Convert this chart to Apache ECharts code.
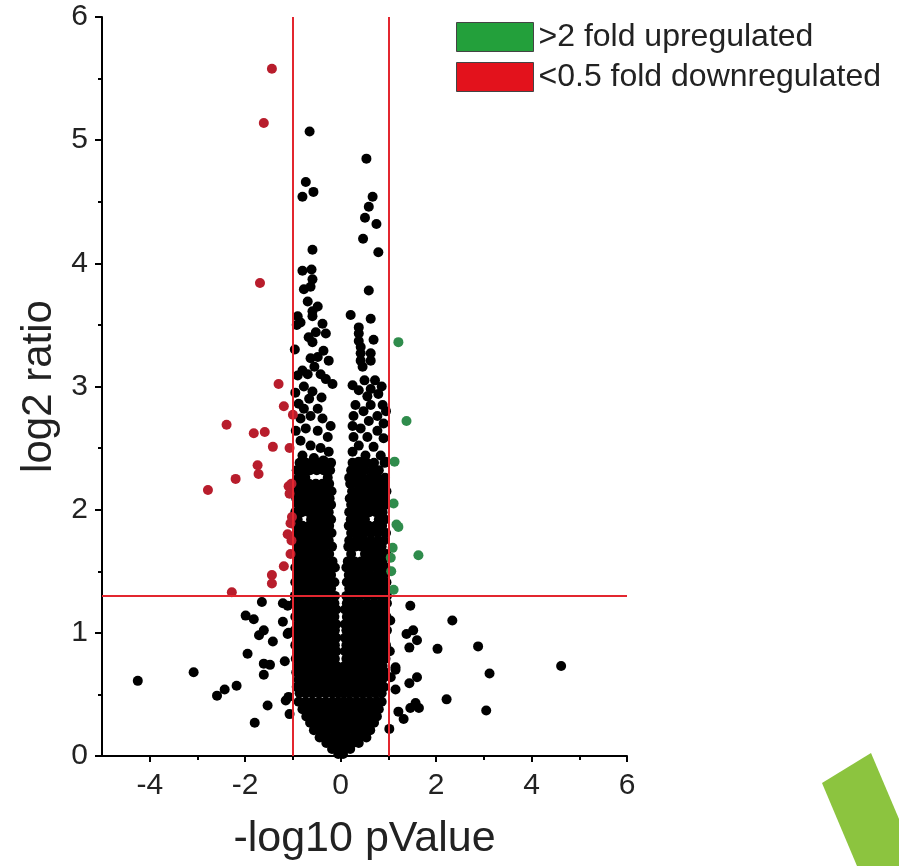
<!DOCTYPE html>
<html>
<head>
<meta charset="utf-8">
<script src="https://cdn.jsdelivr.net/npm/echarts@6/dist/echarts.min.js"></script>
<style>
  html, body { margin: 0; padding: 0; background: #fff; }
  #chart { width: 899px; height: 866px; }
</style>
</head>
<body>
<div id="chart"></div>
<script>
// tick values
const xMajorTicks = [-4, -2, 0, 2, 4, 6];
const xMinorTicks = [-3, -1, 1, 3, 5];

// thresholds
const foldLines = [-1, 1];
const pCut = 1.301;

// >2 fold upregulated (green)
const upPoints = [
  [1.21, 3.36], [1.38, 2.72], [1.13, 2.39], [1.11, 2.05], [1.17, 1.88], [1.21, 1.86],
  [1.63, 1.63], [1.09, 1.69], [1.05, 1.61], [1.06, 1.50], [1.11, 1.35]
];

// <0.5 fold downregulated (red)
const downPoints = [
  [-1.44, 5.58], [-1.61, 5.14], [-1.69, 3.84], [-1.30, 3.02], [-1.19, 2.84], [-1.00, 2.77],
  [-2.39, 2.69], [-1.82, 2.62], [-1.59, 2.63], [-1.42, 2.51], [-1.07, 2.50], [-1.74, 2.36],
  [-1.72, 2.29], [-2.20, 2.25], [-2.78, 2.16], [-1.09, 2.19], [-1.07, 2.13], [-1.05, 1.89],
  [-1.11, 1.80], [-1.03, 1.75], [-1.05, 1.64], [-1.19, 1.54], [-1.44, 1.47], [-1.44, 1.40],
  [-2.28, 1.33], [-1.03, 2.21], [-1.02, 1.94]
];

// sparse black points in the upper part of the cloud
const upperBlack = [
  [-0.65, 5.07], [0.54, 4.85], [-0.73, 4.66], [-0.57, 4.58], [-0.80, 4.54], [0.67, 4.54],
  [0.59, 4.46], [0.51, 4.37], [0.75, 4.32], [0.47, 4.20], [-0.59, 4.11], [0.79, 4.09],
  [-0.80, 3.94], [-0.61, 3.95], [-0.59, 3.87], [-0.77, 3.79], [-0.63, 3.81], [0.59, 3.78],
  [-0.69, 3.69], [-0.48, 3.65], [-0.59, 3.61], [-0.90, 3.57], [-0.92, 3.50], [0.21, 3.58],
  [0.63, 3.55], [0.69, 3.38],
  [-0.59, 3.57], [-0.84, 3.52], [-0.38, 3.51], [-0.52, 3.44], [-0.31, 3.43], [-0.67, 3.40],
  [-0.59, 3.36], [-0.36, 3.29], [-0.48, 3.24], [-0.63, 3.23], [-0.25, 3.21], [-0.80, 3.13],
  [-0.69, 3.10], [-0.42, 3.10], [-0.31, 3.06], [-0.17, 3.02], [-0.90, 3.09], [-0.77, 3.00],
  [-0.59, 2.96], [-0.88, 2.86], [-0.77, 2.82], [-0.48, 2.82], [-0.63, 2.76], [-0.38, 2.74],
  [-0.84, 2.74], [-0.21, 2.68], [-0.73, 2.66], [-0.48, 2.64], [-0.27, 2.59], [-0.84, 2.56],
  [-0.63, 2.52], [-0.42, 2.50], [-0.25, 2.47], [-0.80, 2.44], [-0.56, 2.42], [-0.36, 2.40],
  [-0.96, 3.30], [-0.95, 2.95], [-0.55, 3.16], [-0.40, 2.91], [-0.66, 2.90], [-0.94, 2.64],
  [0.38, 3.48], [0.38, 3.43], [0.38, 3.37], [0.42, 3.32], [0.42, 3.27], [0.63, 3.27],
  [0.42, 3.21], [0.63, 3.21], [0.46, 3.16], [0.25, 3.01], [0.38, 2.97], [0.63, 2.98],
  [0.79, 2.94], [0.56, 2.92], [0.31, 2.85], [0.63, 2.85], [0.88, 2.85], [0.48, 2.80],
  [0.27, 2.76], [0.77, 2.76], [0.59, 2.72], [0.90, 2.70], [0.25, 2.68], [0.42, 2.66],
  [0.77, 2.64], [0.27, 2.59], [0.56, 2.59], [0.90, 2.58], [0.38, 2.52], [0.69, 2.51],
  [0.25, 2.47], [0.52, 2.44], [0.84, 2.44], [0.38, 2.39], [0.94, 2.39],
  [0.72, 3.05], [0.50, 3.05], [0.86, 3.00], [0.95, 2.80]
];

// dense core of the cloud, one row per log2 ratio level: [y, [x values]]
const coreRows = [
  [2.38, [-0.86, -0.72, -0.58, -0.44, -0.30, -0.20, 0.25, 0.40, 0.55, 0.70, 0.92]],
  [2.32, [-0.92, -0.79, -0.64, -0.50, -0.36, -0.22, 0.22, 0.36, 0.51, 0.66, 0.80]],
  [2.26, [-0.88, -0.74, -0.27, 0.18, 0.31, 0.46, 0.62, 0.77, 0.93]],
  [2.21, [-0.94, -0.80, -0.66, -0.52, -0.38, -0.24, 0.20, 0.35, 0.50, 0.64, 0.79, 0.92]],
  [2.15, [-0.90, -0.75, -0.61, -0.47, -0.33, -0.19, 0.24, 0.39, 0.54, 0.69, 0.84, 0.96]],
  [2.09, [-0.93, -0.79, -0.65, -0.51, -0.37, -0.23, 0.19, 0.33, 0.48, 0.62, 0.77, 0.91]],
  [2.04, [-0.88, -0.74, -0.60, -0.46, -0.32, -0.20, 0.22, 0.37, 0.52, 0.67, 0.82, 0.95]],
  [1.98, [-0.95, -0.81, -0.67, -0.53, -0.39, -0.25, 0.18, 0.32, 0.46, 0.60, 0.74, 0.88]],
  [1.92, [-0.90, -0.62, -0.48, -0.34, -0.20, 0.21, 0.36, 0.51, 0.80, 0.93]],
  [1.87, [-0.94, -0.80, -0.66, -0.52, -0.38, -0.24, 0.17, 0.31, 0.45, 0.59, 0.73, 0.87]],
  [1.81, [-0.89, -0.75, -0.61, -0.47, -0.33, -0.19, 0.22, 0.36, 0.50, 0.64, 0.78, 0.95]],
  [1.75, [-0.95, -0.81, -0.67, -0.53, -0.39, -0.25, 0.18, 0.33, 0.48, 0.63, 0.78, 0.91]],
  [1.70, [-0.90, -0.76, -0.62, -0.48, -0.34, -0.18, 0.16, 0.30, 0.44, 0.58, 0.72, 0.86]],
  [1.64, [-0.94, -0.80, -0.66, -0.52, -0.38, -0.24, 0.22, 0.51, 0.66, 0.81, 0.96]],
  [1.58, [-0.89, -0.75, -0.61, -0.47, -0.33, -0.17, 0.15, 0.29, 0.43, 0.58, 0.73, 0.88]],
  [1.53, [-0.95, -0.81, -0.67, -0.53, -0.39, -0.25, -0.12, 0.12, 0.22, 0.36, 0.50, 0.65, 0.80, 0.94]],
  [1.47, [-0.90, -0.76, -0.62, -0.48, -0.34, -0.20, 0.17, 0.31, 0.45, 0.60, 0.75, 0.90]],
  [1.41, [-0.95, -0.82, -0.68, -0.54, -0.40, -0.26, -0.13, 0.13, 0.25, 0.39, 0.53, 0.68, 0.83, 0.96]],
  [1.36, [-0.90, -0.76, -0.62, -0.48, -0.34, -0.20, 0.18, 0.32, 0.46, 0.61, 0.76, 0.91]],
  [1.30, [-0.96, -0.82, -0.68, -0.54, -0.40, -0.26, -0.12, 0.12, 0.25, 0.40, 0.55, 0.70, 0.85, 0.97]],
  [1.24, [-0.97, -0.83, -0.69, -0.55, -0.41, -0.27, -0.13, 0.13, 0.27, 0.41, 0.55, 0.69, 0.83, 0.97]],
  [1.19, [-0.90, -0.76, -0.62, -0.48, -0.34, -0.20, -0.09, 0.09, 0.20, 0.34, 0.48, 0.62, 0.76, 0.90]],
  [1.13, [-0.95, -0.81, -0.67, -0.53, -0.39, -0.25, -0.13, 0.13, 0.26, 0.40, 0.54, 0.68, 0.82, 0.96]],
  [1.07, [-0.89, -0.75, -0.61, -0.47, -0.33, -0.19, -0.09, 0.09, 0.21, 0.35, 0.49, 0.63, 0.77, 0.91]],
  [1.02, [-0.96, -0.82, -0.68, -0.54, -0.40, -0.26, -0.12, 0.12, 0.26, 0.40, 0.54, 0.68, 0.82, 0.97]],
  [0.96, [-0.91, -0.77, -0.63, -0.49, -0.35, -0.21, -0.09, 0.09, 0.21, 0.35, 0.49, 0.63, 0.77, 0.92]],
  [0.90, [-0.95, -0.81, -0.67, -0.53, -0.39, -0.25, -0.12, 0.12, 0.25, 0.39, 0.53, 0.67, 0.81, 0.95]],
  [0.85, [-0.90, -0.76, -0.62, -0.48, -0.34, -0.20, -0.09, 0.09, 0.20, 0.34, 0.48, 0.62, 0.76, 0.90]],
  [0.79, [-0.94, -0.80, -0.66, -0.52, -0.38, -0.24, -0.12, 0.12, 0.24, 0.38, 0.52, 0.66, 0.80, 0.94]],
  [0.73, [-0.89, -0.75, -0.61, -0.47, -0.33, -0.19, -0.08, 0.08, 0.19, 0.33, 0.47, 0.61, 0.75, 0.88]],
  [0.68, [-0.93, -0.79, -0.65, -0.51, -0.37, -0.23, -0.11, 0.00, 0.11, 0.23, 0.37, 0.51, 0.65, 0.79, 0.93]],
  [0.62, [-0.88, -0.74, -0.60, -0.46, -0.32, -0.18, -0.06, 0.06, 0.18, 0.32, 0.46, 0.60, 0.74, 0.87]],
  [0.56, [-0.92, -0.78, -0.64, -0.50, -0.36, -0.22, -0.10, 0.00, 0.10, 0.22, 0.36, 0.50, 0.64, 0.78, 0.91]],
  [0.51, [-0.86, -0.72, -0.58, -0.44, -0.30, -0.16, -0.05, 0.05, 0.16, 0.30, 0.44, 0.58, 0.72, 0.86]],
  [0.44, [-0.88, -0.74, -0.60, -0.46, -0.32, -0.18, -0.05, 0.07, 0.20, 0.34, 0.48, 0.62, 0.76, 0.86]],
  [0.38, [-0.80, -0.66, -0.52, -0.38, -0.24, -0.10, 0.03, 0.16, 0.30, 0.44, 0.58, 0.72, 0.80]],
  [0.32, [-0.72, -0.58, -0.44, -0.30, -0.16, -0.02, 0.12, 0.26, 0.40, 0.54, 0.68, 0.76]],
  [0.27, [-0.64, -0.50, -0.36, -0.22, -0.08, 0.06, 0.20, 0.34, 0.48, 0.62, 0.70]],
  [0.21, [-0.56, -0.42, -0.28, -0.14, 0.00, 0.14, 0.28, 0.42, 0.56, 0.62]],
  [0.15, [-0.44, -0.30, -0.16, -0.02, 0.12, 0.26, 0.40, 0.54]],
  [0.105, [-0.30, -0.16, -0.02, 0.12, 0.26, 0.38]],
  [0.057, [-0.18, -0.05, 0.08, 0.20]],
  [0.016, [-0.05, 0.05]]
];

// scattered black points outside the fold lines
const outerBlack = [
  [1.46, 1.22], [2.34, 1.10], [1.38, 0.99], [1.52, 1.02], [1.60, 0.94], [1.44, 0.88],
  [2.03, 0.87], [2.88, 0.89], [1.15, 0.72], [1.60, 0.64], [1.44, 0.59], [1.15, 0.54],
  [2.22, 0.46], [1.57, 0.43], [1.64, 0.39], [1.46, 0.39], [1.21, 0.36], [1.32, 0.30],
  [3.12, 0.67], [4.62, 0.73], [3.05, 0.37], [1.15, 0.70], [1.02, 0.22], [1.05, 0.64],
  [1.03, 0.85], [1.04, 1.10],
  [-4.25, 0.61], [-3.08, 0.68], [-2.59, 0.49], [-2.43, 0.54], [-2.18, 0.57], [-1.99, 1.14],
  [-1.82, 1.11], [-1.65, 1.25], [-1.71, 0.98], [-1.61, 1.02], [-1.42, 0.93], [-1.95, 0.83],
  [-1.61, 0.75], [-1.48, 0.74], [-1.61, 0.66], [-1.53, 0.41], [-1.80, 0.27], [-1.21, 1.24],
  [-1.11, 1.22], [-1.21, 1.09], [-1.11, 0.99], [-1.17, 0.77], [-1.15, 0.45], [-1.07, 0.34],
  [-1.09, 0.48], [-1.09, 1.00]
];

const font = "'Liberation Sans', Arial, sans-serif";
const coreBlack = coreRows.flatMap(([y, xs]) => xs.map((x) => [x, y]));
const blackPoints = upperBlack.concat(coreBlack, outerBlack);

const chart = echarts.init(document.getElementById("chart"));
chart.setOption({
  animation: false,
  backgroundColor: "#fff",
  grid: { left: 102, right: 272, top: 17, bottom: 107 },
  legend: {
    orient: "vertical",
    left: 451,
    top: 16,
    itemWidth: 77,
    itemHeight: 29,
    itemGap: 8,
    icon: "rect",
    selectedMode: false,
    itemStyle: { borderColor: "#444", borderWidth: 1 },
    textStyle: { fontSize: 32, color: "#222", fontFamily: font },
    data: [
      { name: ">2 fold upregulated", itemStyle: { color: "#23a03b" } },
      { name: "<0.5 fold downregulated", itemStyle: { color: "#e3121c" } }
    ]
  },
  xAxis: [
    {
      type: "value",
      min: -5,
      max: 6,
      position: "bottom",
      splitLine: { show: false },
      axisLine: { onZero: false, lineStyle: { color: "#000", width: 2 } },
      axisTick: { customValues: xMajorTicks, length: 6, lineStyle: { color: "#000", width: 2 } },
      axisLabel: { customValues: xMajorTicks, fontSize: 30, color: "#222", fontFamily: font, margin: 15 },
      name: "-log10 pValue",
      nameLocation: "middle",
      nameGap: 62,
      nameTextStyle: { fontSize: 43, color: "#222", fontFamily: font }
    },
    {
      type: "value",
      min: -5,
      max: 6,
      position: "bottom",
      splitLine: { show: false },
      axisLine: { show: false, onZero: false },
      axisTick: { customValues: xMinorTicks, length: 4, lineStyle: { color: "#000", width: 2 } },
      axisLabel: { show: false }
    }
  ],
  yAxis: {
    type: "value",
    min: 0,
    max: 6,
    interval: 1,
    splitLine: { show: false },
    axisLine: { show: true, onZero: false, lineStyle: { color: "#000", width: 2 } },
    axisTick: { show: true, length: 7, lineStyle: { color: "#000", width: 2 } },
    minorTick: { show: true, splitNumber: 2, length: 4, lineStyle: { color: "#000", width: 2 } },
    axisLabel: { fontSize: 30, color: "#222", fontFamily: font, margin: 14 },
    name: "log2 ratio",
    nameLocation: "middle",
    nameGap: 34,
    nameTextStyle: { fontSize: 42, color: "#222", fontFamily: font }
  },
  series: [
    {
      name: "all proteins",
      type: "scatter",
      symbolSize: 10,
      itemStyle: { color: "#000", opacity: 1 },
      data: blackPoints,
      z: 2
    },
    {
      name: "<0.5 fold downregulated",
      type: "scatter",
      symbolSize: 10,
      itemStyle: { color: "#b81d2c", opacity: 1 },
      data: downPoints,
      z: 3
    },
    {
      name: ">2 fold upregulated",
      type: "scatter",
      symbolSize: 10,
      itemStyle: { color: "#2f8c4c", opacity: 1 },
      data: upPoints,
      z: 3
    },
    {
      name: "thresholds",
      type: "scatter",
      data: [],
      z: 5,
      markLine: {
        silent: true,
        symbol: "none",
        label: { show: false },
        lineStyle: { color: "#e3262f", width: 2, type: "solid" },
        data: foldLines.map((v) => ({ xAxis: v })).concat([{ yAxis: pCut }])
      }
    }
  ],
  graphic: [
    {
      type: "polygon",
      shape: { points: [[822, 783], [871, 753], [899, 819], [899, 866], [857, 866]] },
      style: { fill: "#8cc43f" },
      silent: true
    }
  ]
});
</script>
</body>
</html>
